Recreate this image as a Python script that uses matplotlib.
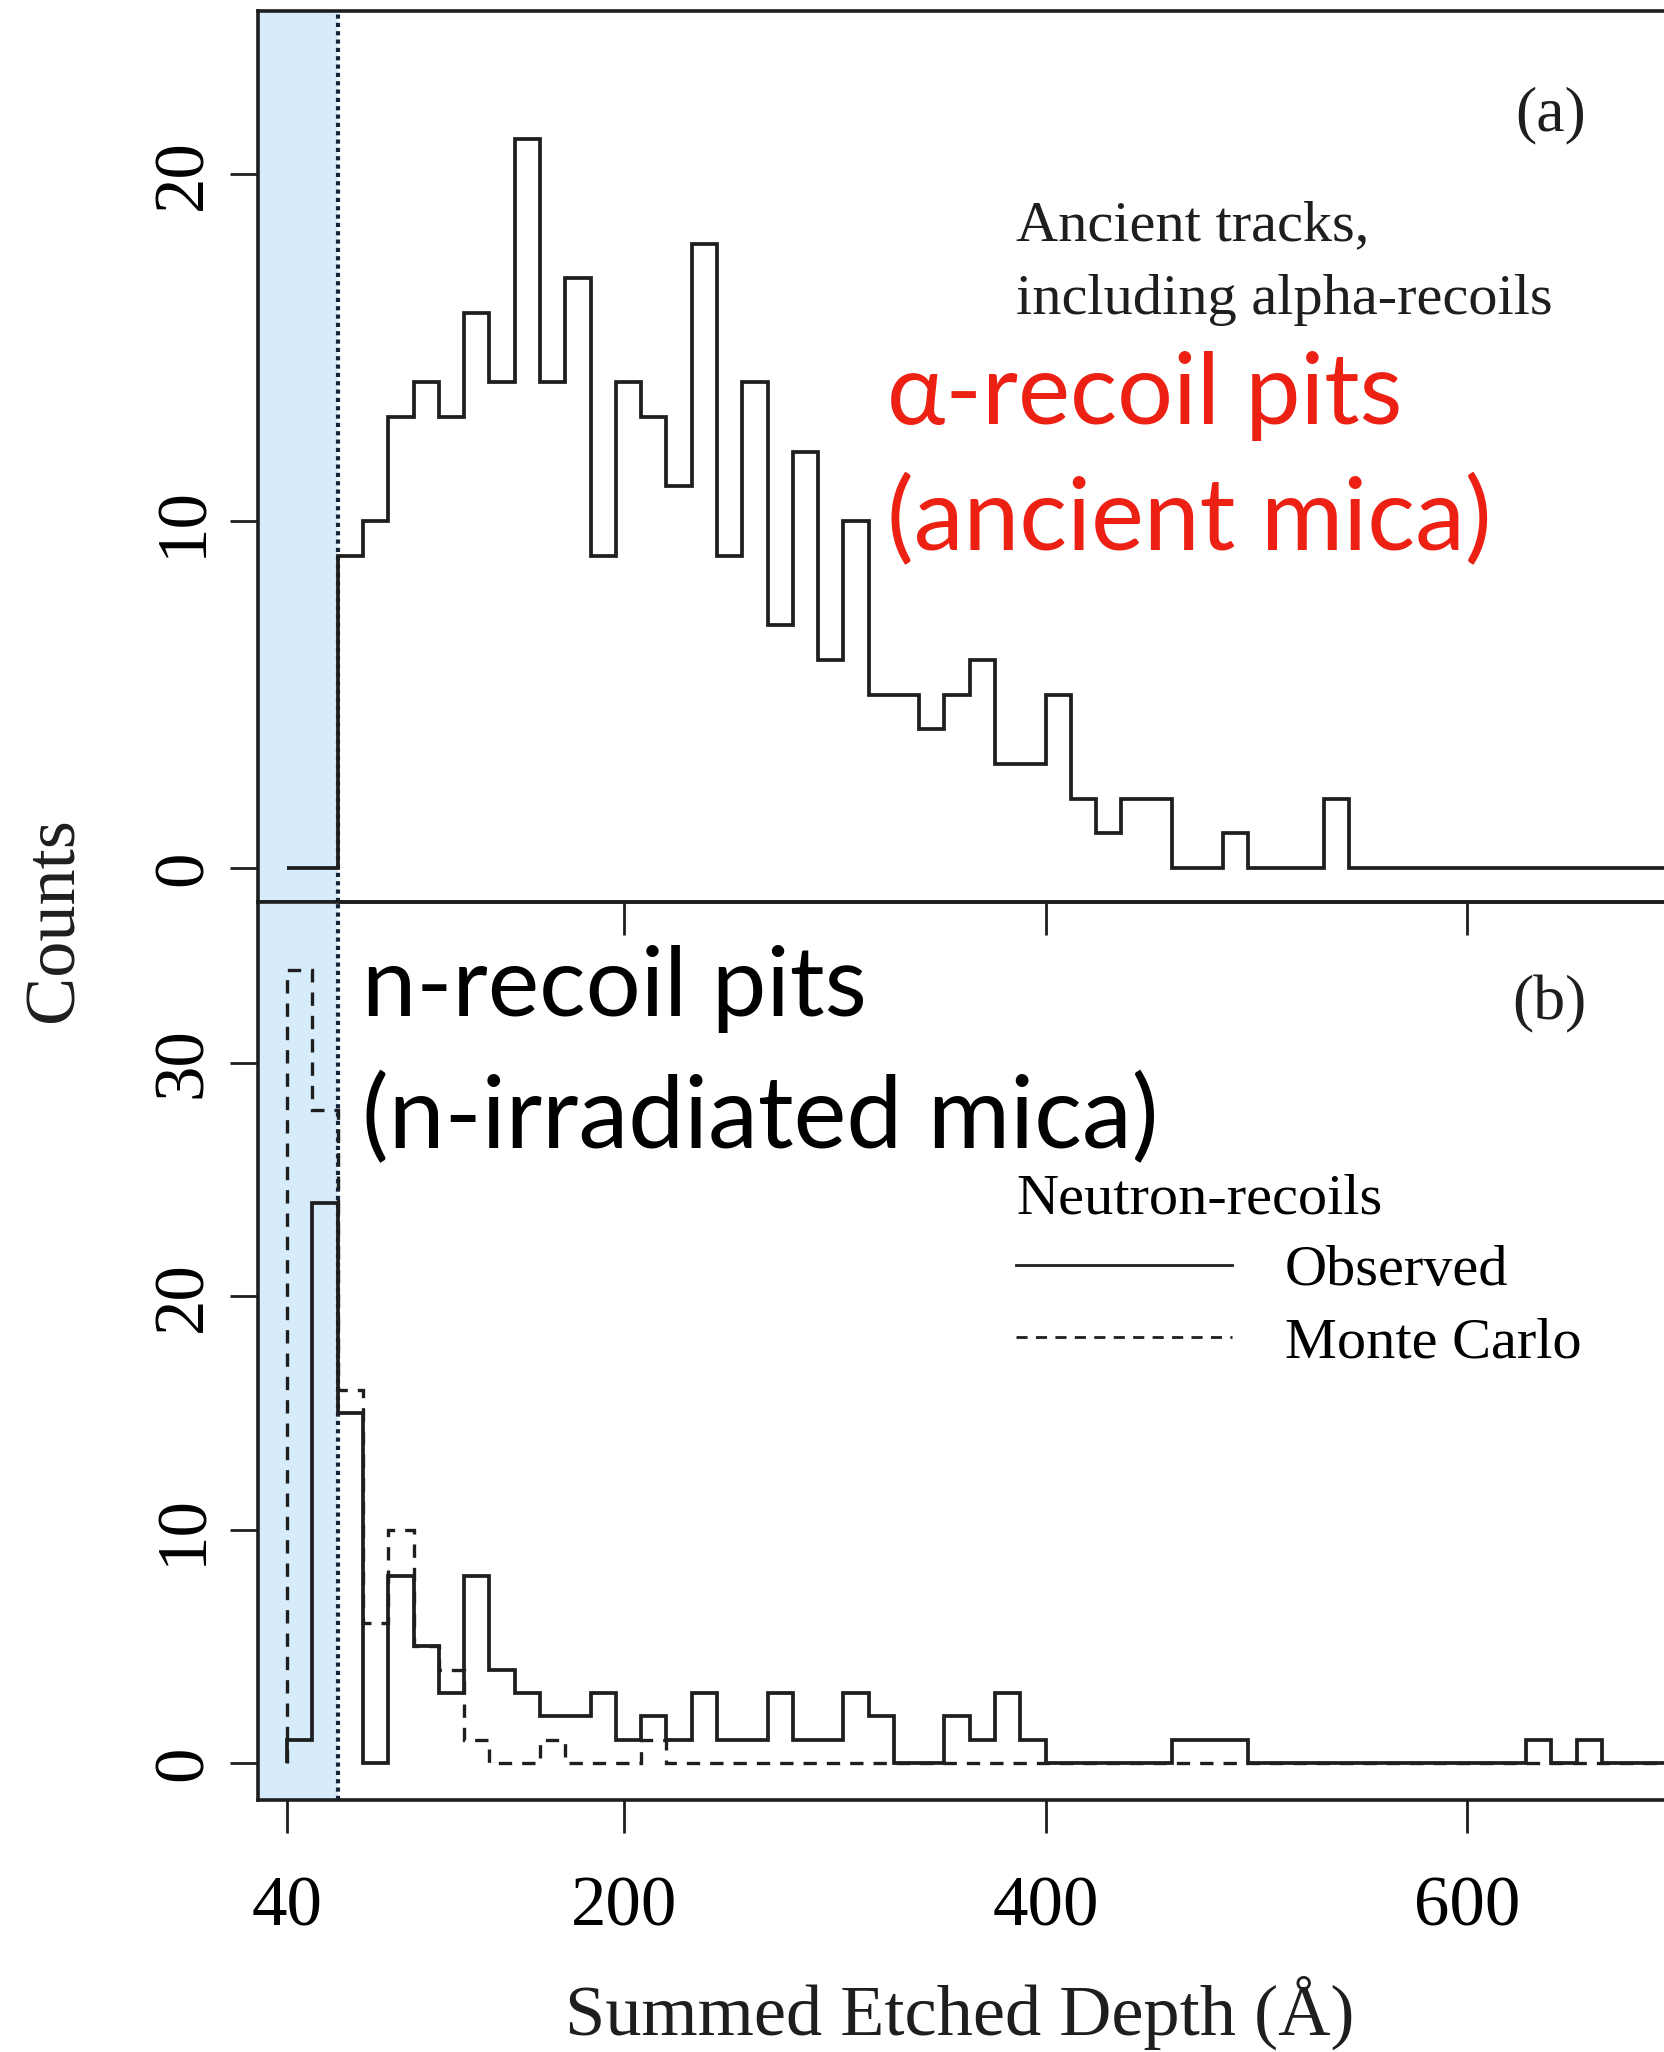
import matplotlib.pyplot as plt
from matplotlib.lines import Line2D
import numpy as np

plt.rcParams['font.family'] = ['Liberation Serif', 'DejaVu Serif']

# bins of summed etched depth, in Angstrom
bin_start = 40
bin_width = 12
n_bins = 56

# (a) ancient mica, counts per bin starting at 40 A (later bins are empty)
alpha_counts = [0, 0, 9, 10, 13, 14, 13, 16, 14, 21, 14, 17, 9, 14, 13, 11,
                18, 9, 14, 7, 12, 6, 10, 5, 5, 4, 5, 6, 3, 3, 5, 2, 1, 2, 2,
                0, 0, 1, 0, 0, 0, 2]

# (b) neutron irradiated mica
observed_counts = [1, 24, 15, 0, 8, 5, 3, 8, 4, 3, 2, 2, 3, 1, 2, 1, 3, 1, 1,
                   3, 1, 1, 3, 2, 0, 0, 2, 1, 3, 1, 0, 0, 0, 0, 0, 1, 1, 1,
                   0, 0, 0, 0, 0, 0, 0, 0, 0, 0, 0, 1, 0, 1]
monte_carlo_counts = [34, 28, 16, 6, 10, 5, 4, 1, 0, 0, 1, 0, 0, 0, 1]

x_ticks = [40, 200, 400, 600]
yticks_a = [0, 10, 20]
yticks_b = [0, 10, 20, 30]
cut_depth = 64

ink = '#1e1e1e'
shade = '#d6ecfb'
red = '#ec2114'
mc_dash = (0, (4, 3))


def full_bins(counts):
    return np.pad(np.array(counts, dtype=float), (0, n_bins - len(counts)))


edges = bin_start + bin_width * np.arange(n_bins + 1)

fig = plt.figure(figsize=(16.65, 20.52), dpi=100)
ax_a = fig.add_axes([0.155, 0.5604, 0.845, 0.4342], facecolor='none')
ax_b = fig.add_axes([0.155, 0.1228, 0.845, 0.4376], facecolor='none')

for ax in (ax_a, ax_b):
    ax.axvspan(24.5, cut_depth, color=shade, lw=0, zorder=0)
    ax.axvline(cut_depth, color='#15233a', lw=3, ls=(0, (1, 1)), zorder=1)
    ax.set_xlim(26.2, 694)
    ax.set_xticks(x_ticks)
    ax.spines['right'].set_visible(False)
    for s in ('left', 'top', 'bottom'):
        ax.spines[s].set_linewidth(2.6)
        ax.spines[s].set_color(ink)
    ax.tick_params(axis='x', direction='out', length=24, width=2, color=ink,
                   labelsize=51, pad=30)
    ax.tick_params(axis='y', direction='out', length=20, width=2, color=ink,
                   labelsize=51, pad=10, labelrotation=90)

ax_a.stairs(full_bins(alpha_counts), edges, baseline=0, color=ink, lw=2.7, zorder=3)
ax_a.set_ylim(-0.98, 24.7)
ax_a.set_yticks(yticks_a)
ax_a.tick_params(axis='x', labelbottom=False)

ax_b.stairs(full_bins(monte_carlo_counts), edges, baseline=0, color=ink,
            lw=2.4, ls=mc_dash, zorder=2)
ax_b.stairs(full_bins(observed_counts), edges, baseline=0, color=ink, lw=2.7, zorder=3)
ax_b.set_ylim(-1.59, 36.9)
ax_b.set_yticks(yticks_b)

for ax in (ax_a, ax_b):
    for lbl in ax.get_yticklabels():
        lbl.set_va('center')

# panel (a) annotations
ax_a.text(639.5, 21.7, '(a)', fontsize=46, ha='center', va='center', color=ink)
ax_a.text(386, 18.1, 'Ancient tracks,', fontsize=42, color=ink)
ax_a.text(386, 15.98, 'including alpha-recoils', fontsize=42, color=ink)
ax_a.text(324.8, 12.8, 'α-recoil pits', fontsize=71, color=red, family='Lato')
ax_a.text(324.8, 9.16, '(ancient mica)', fontsize=72, color=red, family='Lato')

# panel (b) annotations
ax_b.text(639.2, 32.5, '(b)', fontsize=46, ha='center', va='center', color=ink)
ax_b.text(75.5, 32.0, 'n-recoil pits', fontsize=70, color='black', family='Lato')
ax_b.text(75.5, 26.36, '(n-irradiated mica)', fontsize=72, color='black', family='Lato')

handles = [Line2D([], [], color=ink, lw=2.0),
           Line2D([], [], color=ink, lw=2.0, ls=mc_dash)]
leg = ax_b.legend(handles, ['Observed', 'Monte Carlo'], title='Neutron-recoils',
                  loc='upper left', bbox_to_anchor=(0.539, 0.698), frameon=False,
                  fontsize=42, title_fontsize=42, alignment='left',
                  handlelength=3.7, handletextpad=0.9, labelspacing=0.33,
                  borderpad=0, borderaxespad=0)

fig.text(0.033, 0.5517, 'Counts', rotation=90, fontsize=52, ha='center',
         va='center', color=ink)
fig.text(0.5766, 0.0083, 'Summed Etched Depth (Å)', fontsize=52, ha='center',
         va='baseline', color=ink)

fig.savefig('out.png', dpi=100)
